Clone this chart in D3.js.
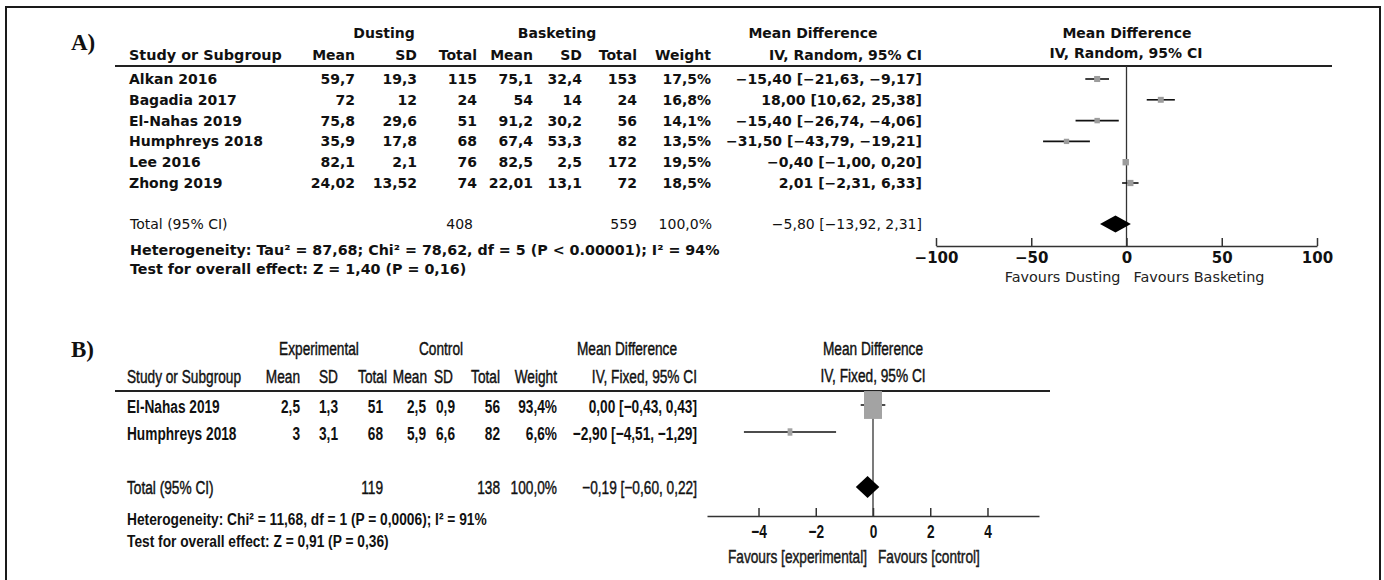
<!DOCTYPE html>
<html><head><meta charset="utf-8">
<script src="https://cdn.jsdelivr.net/npm/d3@7"></script>
<style>body{margin:0;background:#fff}svg{display:block}</style>
</head><body><svg id="c" width="1384" height="580"></svg>
<script>
// ---------- Panel A data ----------
const studiesA = ["Alkan 2016","Bagadia 2017","El-Nahas 2019","Humphreys 2018","Lee 2016","Zhong 2019"];
const dustMean = [59.7, 72, 75.8, 35.9, 82.1, 24.02];
const dustSD   = [19.3, 12, 29.6, 17.8, 2.1, 13.52];
const dustN    = [115, 24, 51, 68, 76, 74];
const baskMean = [75.1, 54, 91.2, 67.4, 82.5, 22.01];
const baskSD   = [32.4, 14, 30.2, 53.3, 2.5, 13.1];
const baskN    = [153, 24, 56, 82, 172, 72];
const weightA  = [17.5, 16.8, 14.1, 13.5, 19.5, 18.5];
const mdA      = [-15.40, 18.00, -15.40, -31.50, -0.40, 2.01];
const loA      = [-21.63, 10.62, -26.74, -43.79, -1.00, -2.31];
const hiA      = [-9.17, 25.38, -4.06, -19.21, 0.20, 6.33];
const totalA   = {dustN: 408, baskN: 559, weight: 100.0, md: -5.80, lo: -13.92, hi: 2.31};
const hetA     = "Heterogeneity: Tau² = 87,68; Chi² = 78,62, df = 5 (P < 0.00001); I² = 94%";
const testA    = "Test for overall effect: Z = 1,40 (P = 0,16)";
const ticksA   = [-100, -50, 0, 50, 100];

// ---------- Panel B data ----------
const studiesB = ["El-Nahas 2019","Humphreys 2018"];
const expMean  = [2.5, 3];
const expSD    = [1.3, 3.1];
const expN     = [51, 68];
const ctlMean  = [2.5, 5.9];
const ctlSD    = [0.9, 6.6];
const ctlN     = [56, 82];
const weightB  = [93.4, 6.6];
const mdB      = [0.00, -2.90];
const loB      = [-0.43, -4.51];
const hiB      = [0.43, -1.29];
const totalB   = {expN: 119, ctlN: 138, weight: 100.0, md: -0.19, lo: -0.60, hi: 0.22};
const hetB     = "Heterogeneity: Chi² = 11,68, df = 1 (P = 0,0006); I² = 91%";
const testB    = "Test for overall effect: Z = 0,91 (P = 0,36)";
const ticksB   = [-4, -2, 0, 2, 4];

// ---------- helpers ----------
const svg = d3.select("#c");
svg.append("rect").attr("width",1384).attr("height",580).attr("fill","#fff");
svg.append("rect").attr("x",6).attr("y",7).attr("width",1374).attr("height",620)
  .attr("fill","none").attr("stroke","#1a1a1a").attr("stroke-width",2);

const fmt  = v => String(v).replace(".", ",").replace("-", "−");
const fmt2 = v => v.toFixed(2).replace(".", ",").replace("-", "−");
const ciText = (m,l,h) => `${fmt2(m)} [${fmt2(l)}, ${fmt2(h)}]`;
const pct = v => v.toFixed(1).replace(".", ",") + "%";

function txt(g, x, y, s, o = {}) {
  const t = g.append("text").attr("x", x).attr("y", y).text(s);
  if (o.anchor) t.attr("text-anchor", o.anchor);
  if (o.weight) t.attr("font-weight", o.weight);
  if (o.size) t.attr("font-size", o.size);
  return t;
}
// condensed text: drawn at origin, then translated and squeezed horizontally
function ctxt(g, x, y, s, f, o = {}) {
  const t = g.append("text").attr("x", 0).attr("y", 0).text(s)
    .attr("transform", `translate(${x},${y}) scale(${f},1)`);
  if (o.anchor) t.attr("text-anchor", o.anchor);
  if (o.weight) t.attr("font-weight", o.weight);
  if (o.size) t.attr("font-size", o.size);
  if (o.medium) t.attr("stroke", "#111").attr("stroke-width", 0.45);
  return t;
}
function fitText(g, x, y, s, width, o = {}) {
  const t = ctxt(g, x, y, s, 1, o);
  const f = width / t.node().getComputedTextLength();
  t.attr("transform", `translate(${x},${y}) scale(${f},1)`);
  return f;
}

// =============== PANEL A ===============
const FA = "'DejaVu Sans', Verdana, sans-serif";
const gA = svg.append("g").attr("font-family", FA).attr("font-size", 14).attr("fill", "#111");
svg.append("text").attr("x", 71).attr("y", 50).attr("font-family", "'Liberation Serif','Times New Roman',serif")
  .attr("font-weight", "bold").attr("font-size", 23).attr("fill", "#111").text("A)");

const cA = {dMean: 355, dSD: 417, dN: 477, bMean: 533, bSD: 582, bN: 637, w: 711, ci: 922, left: 129};
const yA = d3.scaleLinear().domain([0, studiesA.length - 1]).range([79, 183]);
const yTotA = 224;

txt(gA, 384, 38, "Dusting", {anchor: "middle", weight: "bold"});
txt(gA, 557, 38, "Basketing", {anchor: "middle", weight: "bold"});
txt(gA, 813, 38, "Mean Difference", {anchor: "middle", weight: "bold"});
txt(gA, 1127, 38, "Mean Difference", {anchor: "middle", weight: "bold"});
txt(gA, cA.left, 60, "Study or Subgroup", {weight: "bold", size: 14.4});
[["Mean", cA.dMean], ["SD", cA.dSD], ["Total", cA.dN], ["Mean", cA.bMean], ["SD", cA.bSD],
 ["Total", cA.bN], ["Weight", cA.w], ["IV, Random, 95% CI", cA.ci]]
  .forEach(([s, x]) => txt(gA, x, 60, s, {anchor: "end", weight: "bold"}));
txt(gA, 1126, 58, "IV, Random, 95% CI", {anchor: "middle", weight: "bold"});
gA.append("line").attr("x1", 115).attr("x2", 1332).attr("y1", 66).attr("y2", 66)
  .attr("stroke", "#222").attr("stroke-width", 2);

studiesA.forEach((s, i) => {
  const y = yA(i) + 5;
  txt(gA, cA.left, y, s, {weight: "bold"});
  txt(gA, cA.dMean, y, fmt(dustMean[i]), {anchor: "end", weight: "bold"});
  txt(gA, cA.dSD, y, fmt(dustSD[i]), {anchor: "end", weight: "bold"});
  txt(gA, cA.dN, y, dustN[i], {anchor: "end", weight: "bold"});
  txt(gA, cA.bMean, y, fmt(baskMean[i]), {anchor: "end", weight: "bold"});
  txt(gA, cA.bSD, y, fmt(baskSD[i]), {anchor: "end", weight: "bold"});
  txt(gA, cA.bN, y, baskN[i], {anchor: "end", weight: "bold"});
  txt(gA, cA.w, y, pct(weightA[i]), {anchor: "end", weight: "bold"});
  txt(gA, cA.ci, y, ciText(mdA[i], loA[i], hiA[i]), {anchor: "end", weight: "bold"});
});
const ytA = yTotA + 5;
txt(gA, cA.left + 1, ytA, "Total (95% CI)");
txt(gA, cA.dN - 4, ytA, totalA.dustN, {anchor: "end"});
txt(gA, cA.bN, ytA, totalA.baskN, {anchor: "end"});
txt(gA, cA.w + 1, ytA, pct(totalA.weight), {anchor: "end"});
txt(gA, cA.ci, ytA, ciText(totalA.md, totalA.lo, totalA.hi), {anchor: "end"});
const fA = fitText(gA, cA.left + 1, 255, hetA, 590, {weight: "bold", size: 13.5});
ctxt(gA, cA.left + 1, 274, testA, fA, {weight: "bold", size: 13.5});

// plot A
const xA = d3.scaleLinear().domain([-100, 100]).range([936, 1317]);
const pA = svg.append("g");
pA.append("line").attr("x1", xA(0)).attr("x2", xA(0)).attr("y1", 66).attr("y2", 246)
  .attr("stroke", "#333").attr("stroke-width", 1.3);
const sqA = d3.scaleSqrt().domain([0, 100]).range([0, 14.5]);
studiesA.forEach((s, i) => {
  pA.append("line").attr("x1", xA(loA[i])).attr("x2", xA(hiA[i])).attr("y1", yA(i)).attr("y2", yA(i))
    .attr("stroke", "#111").attr("stroke-width", 1.6);
  const w = sqA(weightA[i]);
  pA.append("rect").attr("x", xA(mdA[i]) - w / 2).attr("y", yA(i) - w / 2).attr("width", w).attr("height", w)
    .attr("fill", "#9c9c9c");
});
pA.append("path").attr("fill", "#000").attr("d",
  `M${xA(totalA.lo)},${yTotA} L${xA(totalA.md)},${yTotA - 8.5} L${xA(totalA.hi)},${yTotA} L${xA(totalA.md)},${yTotA + 8.5}Z`);
const axA = pA.append("g").attr("transform", "translate(0,246)")
  .call(d3.axisBottom(xA).tickValues(ticksA).tickSizeInner(-8).tickSizeOuter(0).tickPadding(6)
    .tickFormat(d => String(d).replace("-", "−")));
axA.selectAll("path,line").attr("stroke", "#333").attr("stroke-width", 1.5);
axA.selectAll("text").attr("font-family", FA).attr("font-size", 15)
  .attr("font-weight", "bold").attr("fill", "#111");
const gAf = svg.append("g").attr("font-family", FA).attr("font-size", 14.4).attr("fill", "#222");
txt(gAf, xA(0) - 6, 282, "Favours Dusting", {anchor: "end"});
txt(gAf, xA(0) + 7, 282, "Favours Basketing");

// =============== PANEL B ===============
const CF = 0.72;
const FB = "'Liberation Sans', Arial, sans-serif";
const gB = svg.append("g").attr("font-family", FB).attr("font-size", 19).attr("fill", "#111");
svg.append("text").attr("x", 71).attr("y", 357).attr("font-family", "'Liberation Serif','Times New Roman',serif")
  .attr("font-weight", "bold").attr("font-size", 23).attr("fill", "#111").text("B)");

const cB = {eMean: 300, eSD: 338, eN: 383, cMean: 426, cSD: 455, cN: 500, w: 557, ci: 697, left: 127};
const yB = d3.scaleLinear().domain([0, studiesB.length - 1]).range([405, 432]);
const yTotB = 487;
const M = {medium: true}, ME = {medium: true, anchor: "end"}, MM = {medium: true, anchor: "middle"};

ctxt(gB, 319, 355, "Experimental", CF, MM);
ctxt(gB, 441, 355, "Control", CF, MM);
ctxt(gB, 627, 355, "Mean Difference", CF, MM);
ctxt(gB, 873, 355, "Mean Difference", CF, MM);
ctxt(gB, cB.left, 383, "Study or Subgroup", CF, M);
[["Mean", cB.eMean], ["SD", cB.eSD], ["Total", cB.eN + 4], ["Mean", cB.cMean + 1], ["SD", cB.cSD - 2],
 ["Total", cB.cN], ["Weight", cB.w], ["IV, Fixed, 95% CI", cB.ci]]
  .forEach(([s, x]) => ctxt(gB, x, 383, s, CF, ME));
ctxt(gB, 873, 382, "IV, Fixed, 95% CI", CF, MM);
gB.append("line").attr("x1", 115).attr("x2", 1050).attr("y1", 391).attr("y2", 391)
  .attr("stroke", "#222").attr("stroke-width", 2);

studiesB.forEach((s, i) => {
  const y = yB(i) + 8, b = {weight: "bold"}, e = {anchor: "end", weight: "bold"};
  ctxt(gB, cB.left, y, s, CF, b);
  ctxt(gB, cB.eMean, y, fmt(expMean[i]), CF, e);
  ctxt(gB, cB.eSD, y, fmt(expSD[i]), CF, e);
  ctxt(gB, cB.eN, y, expN[i], CF, e);
  ctxt(gB, cB.cMean, y, fmt(ctlMean[i]), CF, e);
  ctxt(gB, cB.cSD, y, fmt(ctlSD[i]), CF, e);
  ctxt(gB, cB.cN, y, ctlN[i], CF, e);
  ctxt(gB, cB.w, y, pct(weightB[i]), CF, e);
  ctxt(gB, cB.ci, y, ciText(mdB[i], loB[i], hiB[i]), CF, e);
});
const ytB = yTotB + 7;
ctxt(gB, cB.left, ytB, "Total (95% CI)", CF, M);
ctxt(gB, cB.eN, ytB, totalB.expN, CF, ME);
ctxt(gB, cB.cN, ytB, totalB.ctlN, CF, ME);
ctxt(gB, cB.w, ytB, pct(totalB.weight), CF, ME);
ctxt(gB, cB.ci, ytB, ciText(totalB.md, totalB.lo, totalB.hi), CF, ME);
const fB = fitText(gB, cB.left, 525, hetB, 360, {weight: "bold", size: 17});
ctxt(gB, cB.left, 547, testB, fB, {weight: "bold", size: 17});

// plot B
const xB = d3.scaleLinear().domain([-5.8, 5.8]).range([707, 1039]);
const pB = svg.append("g");
pB.append("line").attr("x1", xB(0)).attr("x2", xB(0)).attr("y1", 391).attr("y2", 516)
  .attr("stroke", "#333").attr("stroke-width", 1.3);
const sqB = d3.scaleSqrt().domain([0, 100]).range([0, 18.6]);
studiesB.forEach((s, i) => {
  pB.append("line").attr("x1", xB(loB[i])).attr("x2", xB(hiB[i])).attr("y1", yB(i)).attr("y2", yB(i))
    .attr("stroke", "#111").attr("stroke-width", 1.5);
  const w = Math.max(sqB(weightB[i]), 3), h = w * 1.55;
  pB.append("rect").attr("x", xB(mdB[i]) - w / 2).attr("y", yB(i) - h / 2).attr("width", w).attr("height", h)
    .attr("fill", "#a3a3a3");
});
pB.append("path").attr("fill", "#000").attr("d",
  `M${xB(totalB.lo)},${yTotB} L${xB(totalB.md)},${yTotB - 11} L${xB(totalB.hi)},${yTotB} L${xB(totalB.md)},${yTotB + 11}Z`);
const axB = pB.append("g").attr("transform", "translate(0,516)")
  .call(d3.axisBottom(xB).tickValues(ticksB).tickSizeInner(-8).tickSizeOuter(0).tickPadding(9)
    .tickFormat(d => String(d).replace("-", "−")));
axB.selectAll("path,line").attr("stroke", "#333").attr("stroke-width", 1.5);
axB.selectAll("text").attr("font-family", FB).attr("font-size", 19)
  .attr("font-weight", "bold").attr("fill", "#111").attr("transform", `scale(${CF},1)`);
const gBf = svg.append("g").attr("font-family", FB).attr("font-size", 19).attr("fill", "#222");
ctxt(gBf, xB(0) - 6, 563, "Favours [experimental]", CF, {anchor: "end", medium: true});
ctxt(gBf, xB(0) + 5, 563, "Favours [control]", CF, {medium: true});
</script></body></html>
